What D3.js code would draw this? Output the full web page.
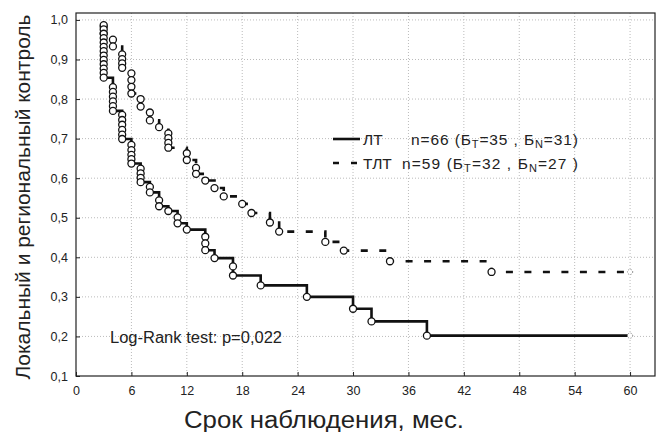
<!DOCTYPE html>
<html>
<head>
<meta charset="utf-8">
<script src="https://cdn.jsdelivr.net/npm/d3@7"></script>
<style>
  body { margin: 0; background: #fff; }
  text { font-family: "Liberation Sans", Arial, sans-serif; fill: #222; }
</style>
</head>
<body>
<script>
// Kaplan-Meier curves
// each time has a stack of circles (survival after each event)
var ltTimes = [3, 4, 5, 6, 7, 8, 9, 10, 11, 12, 14, 15, 17, 20, 25, 30, 32, 38];
var ltCircles = [
  [0.987, 0.976, 0.965, 0.954, 0.943, 0.932, 0.921, 0.91, 0.899, 0.888, 0.877, 0.866, 0.854],
  [0.83, 0.818, 0.806, 0.794, 0.782, 0.77],
  [0.76, 0.747, 0.735, 0.722, 0.71, 0.699],
  [0.684, 0.671, 0.659, 0.648, 0.637],
  [0.624, 0.612, 0.601, 0.59],
  [0.578, 0.564],
  [0.544, 0.529],
  [0.517],
  [0.501, 0.486],
  [0.47],
  [0.452, 0.435, 0.418],
  [0.398],
  [0.377, 0.354],
  [0.329],
  [0.3],
  [0.27],
  [0.238],
  [0.202]
];
var tltTimes = [3, 4, 5, 6, 7, 8, 9, 10, 12, 13, 14, 15, 16, 18, 19, 21, 22, 27, 29, 34, 45];
var tltCircles = [
  [0.983, 0.966],
  [0.95, 0.933],
  [0.913, 0.901, 0.89, 0.879],
  [0.865, 0.848, 0.831, 0.814],
  [0.8, 0.781],
  [0.766, 0.746],
  [0.729],
  [0.713, 0.701, 0.689, 0.677],
  [0.663, 0.646],
  [0.626, 0.611],
  [0.594],
  [0.575],
  [0.554],
  [0.535],
  [0.512],
  [0.488],
  [0.465],
  [0.439],
  [0.417],
  [0.39],
  [0.363]
];
var endTime = 60;

var xTicks = [0, 6, 12, 18, 24, 30, 36, 42, 48, 54, 60];
var yTicks = [0.1, 0.2, 0.3, 0.4, 0.5, 0.6, 0.7, 0.8, 0.9, 1.0];

var width = 663, height = 432;
var svg = d3.select("body").append("svg")
    .attr("width", width)
    .attr("height", height);

var x = d3.scaleLinear().domain([0, 62.7]).range([76, 655]);
var y = d3.scaleLinear().domain([0.1, 1.0175]).range([376, 13]);

var fmt = function (d) { return d3.format(".1f")(d).replace(".", ","); };

// grid
svg.append("g").selectAll("line")
    .data(xTicks.slice(1))
    .enter().append("line")
    .attr("x1", function (d) { return x(d); })
    .attr("x2", function (d) { return x(d); })
    .attr("y1", y.range()[1])
    .attr("y2", y.range()[0])
    .attr("stroke", "#bbb")
    .attr("stroke-dasharray", "1,2");
svg.append("g").selectAll("line")
    .data(yTicks.slice(1))
    .enter().append("line")
    .attr("x1", x.range()[0])
    .attr("x2", x.range()[1])
    .attr("y1", function (d) { return y(d); })
    .attr("y2", function (d) { return y(d); })
    .attr("stroke", "#bbb")
    .attr("stroke-dasharray", "1,2");

// axes, ticks inward
var xAxis = svg.append("g")
    .attr("transform", "translate(0," + y.range()[0] + ")")
    .call(d3.axisBottom(x).tickValues(xTicks).tickSizeInner(-4).tickSizeOuter(0).tickPadding(10));
var yAxis = svg.append("g")
    .attr("transform", "translate(" + x.range()[0] + ",0)")
    .call(d3.axisLeft(y).tickValues(yTicks).tickFormat(fmt).tickSizeInner(-4).tickSizeOuter(0).tickPadding(8));
[xAxis, yAxis].forEach(function (g) {
  g.select(".domain").remove();
  g.selectAll("text").attr("font-size", 12.5).attr("font-family", "Liberation Sans, Arial, sans-serif").attr("fill", "#222");
  g.selectAll(".tick line").attr("stroke", "#222");
});

// frame
svg.append("rect")
    .attr("x", x.range()[0])
    .attr("y", y.range()[1])
    .attr("width", x.range()[1] - x.range()[0])
    .attr("height", y.range()[0] - y.range()[1])
    .attr("fill", "none")
    .attr("stroke", "#222")
    .attr("stroke-width", 1.2);

// build step path: horizontal to event time then drop to last circle
function stepPoints(times, circles) {
  var pts = [];
  var level = circles[0][0];
  times.forEach(function (t, i) {
    var stack = circles[i];
    if (i > 0) pts.push([t, level]);
    pts.push([t, stack[0]]);
    level = stack[stack.length - 1];
    pts.push([t, level]);
  });
  pts.push([endTime, level]);
  return pts;
}
var line = d3.line()
    .x(function (d) { return x(d[0]); })
    .y(function (d) { return y(d[1]); });

function drawSeries(times, circles, dash) {
  svg.append("path")
      .datum(stepPoints(times, circles))
      .attr("d", line)
      .attr("fill", "none")
      .attr("stroke", "#111")
      .attr("stroke-width", 2.6)
      .attr("stroke-dasharray", dash);

  var pts = [];
  times.forEach(function (t, i) {
    circles[i].forEach(function (s) { pts.push([t, s]); });
  });
  svg.append("g").selectAll("circle")
      .data(pts)
      .enter().append("circle")
      .attr("cx", function (d) { return x(d[0]); })
      .attr("cy", function (d) { return y(d[1]); })
      .attr("r", 3.5)
      .attr("fill", "#fff")
      .attr("stroke", "#111")
      .attr("stroke-width", 1.3);

  // censored end mark
  var last = circles[circles.length - 1];
  svg.append("circle")
      .attr("cx", x(endTime))
      .attr("cy", y(last[last.length - 1]))
      .attr("r", 2.6)
      .attr("fill", "#fff")
      .attr("stroke", "#777")
      .attr("stroke-dasharray", "1,1.5");
}
drawSeries(tltTimes, tltCircles, "7,11.5");
drawSeries(ltTimes, ltCircles, null);

// legend
var lg = svg.append("g");
lg.append("line").attr("x1", 333).attr("x2", 360).attr("y1", 139).attr("y2", 139)
    .attr("stroke", "#111").attr("stroke-width", 2.6);
lg.append("line").attr("x1", 333).attr("x2", 358).attr("y1", 163).attr("y2", 163)
    .attr("stroke", "#111").attr("stroke-width", 2.6).attr("stroke-dasharray", "6,12");

function legendText(xp, yp, len, parts) {
  var t = lg.append("text").attr("x", xp).attr("y", yp).attr("font-size", 15.5);
  if (len) t.attr("textLength", len).attr("lengthAdjust", "spacing");
  parts.forEach(function (p) {
    var ts = t.append("tspan").text(p[0]);
    if (p[1] === "sub") ts.attr("font-size", 11).attr("dy", 3.5);
    if (p[1] === "up") ts.attr("dy", -3.5);
  });
}
legendText(363, 144.5, null, [["ЛТ"]]);
legendText(411, 144.5, 167, [["n=66 (Б"], ["T", "sub"], ["=35 , Б", "up"], ["N", "sub"], ["=31)", "up"]]);
legendText(363, 168.5, null, [["ТЛТ"]]);
legendText(402, 168.5, 176, [["n=59 (Б"], ["T", "sub"], ["=32 , Б", "up"], ["N", "sub"], ["=27 )", "up"]]);

svg.append("text")
    .attr("x", 110)
    .attr("y", 343)
    .attr("font-size", 16)
    .attr("textLength", 172)
    .attr("lengthAdjust", "spacingAndGlyphs")
    .text("Log-Rank test: p=0,022");

// axis titles
svg.append("text")
    .attr("x", 324)
    .attr("y", 428)
    .attr("text-anchor", "middle")
    .attr("font-size", 23)
    .attr("textLength", 280)
    .attr("lengthAdjust", "spacingAndGlyphs")
    .text("Срок наблюдения, мес.");
svg.append("text")
    .attr("transform", "translate(30,197) rotate(-90)")
    .attr("text-anchor", "middle")
    .attr("font-size", 20)
    .attr("textLength", 365)
    .attr("lengthAdjust", "spacingAndGlyphs")
    .text("Локальный и региональный контроль");
</script>
</body>
</html>
